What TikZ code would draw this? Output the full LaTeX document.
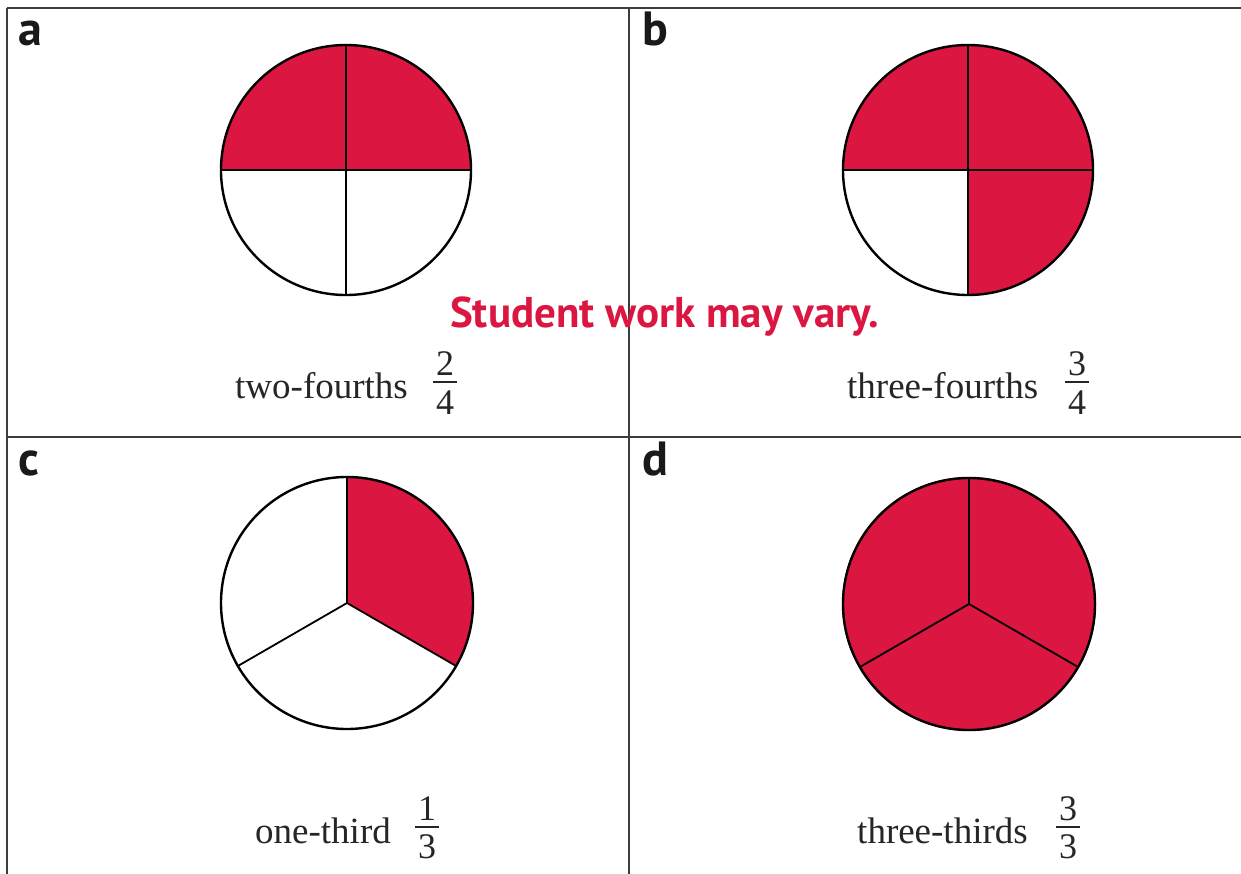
\documentclass[tikz,border=0pt]{standalone}
\usepackage{fontspec}
\newfontfamily\panelfont{PT Sans}
\newfontfamily\capfont{Liberation Serif}
\definecolor{ansred}{RGB}{218,22,65}
\definecolor{rulegray}{RGB}{60,60,60}
\tikzset{
  gridline/.style={line width=1.7pt, draw=rulegray},
  pierim/.style={line width=2.4pt, draw=black},
  piediv/.style={line width=1.8pt, draw=black},
  piefill/.style={fill=ansred},
  panellabel/.style={font=\panelfont\bfseries\fontsize{48}{48}\selectfont, text=black!90, anchor=base west, inner sep=0pt},
  caption/.style={font=\capfont\fontsize{37}{37}\selectfont, text=black!85, anchor=base west, inner sep=0pt},
  digit/.style={font=\capfont\fontsize{36}{36}\selectfont, text=black!85, anchor=base, inner sep=0pt},
  fracbar/.style={line width=1.4pt, draw=black!85},
  answer/.style={font=\panelfont\bfseries\fontsize{43}{43}\selectfont, text=ansred, anchor=base west, inner sep=0pt},
}
\begin{document}
\begin{tikzpicture}[x=1pt,y=-1pt]
\useasboundingbox (0,0) rectangle (1241,874);
\fill[white] (0,0) rectangle (1241,874);

% grid
\draw[gridline] (7,8) -- (1241,8);
\draw[gridline] (7,8) -- (7,874);
\draw[gridline] (629,8) -- (629,874);
\draw[gridline] (7,437) -- (1241,437);

% panel labels
\node[panellabel] (la) at (18,46) {a};
\node[panellabel] (lb) at (642,46) {b};
\node[panellabel] (lc) at (18,475) {c};
\node[panellabel] (ld) at (642,475) {d};

% pie a : two-fourths
\begin{scope}[shift={(346,170)}, y=1pt]
  \fill[piefill] (0,0) -- (0:125) arc[start angle=0, end angle=180, radius=125] -- cycle;
  \draw[pierim] (0,0) circle[radius=125];
  \draw[piediv] (90:125) -- (270:125);
  \draw[piediv] (0:125) -- (180:125);
\end{scope}

% pie b : three-fourths
\begin{scope}[shift={(968,170)}, y=1pt]
  \fill[piefill] (0,0) -- (270:125) arc[start angle=-90, end angle=180, radius=125] -- cycle;
  \draw[pierim] (0,0) circle[radius=125];
  \draw[piediv] (90:125) -- (270:125);
  \draw[piediv] (0:125) -- (180:125);
\end{scope}

% pie c : one-third
\begin{scope}[shift={(347,603)}, y=1pt]
  \fill[piefill] (0,0) -- (90:126) arc[start angle=90, end angle=-30, radius=126] -- cycle;
  \draw[pierim] (0,0) circle[radius=126];
  \draw[piediv] (0,0) -- (90:126);
  \draw[piediv] (0,0) -- (-30:126);
  \draw[piediv] (0,0) -- (210:126);
\end{scope}

% pie d : three-thirds
\begin{scope}[shift={(969,604)}, y=1pt]
  \fill[piefill] (0,0) circle[radius=127];
  \draw[pierim] (0,0) circle[radius=126];
  \draw[piediv] (0,0) -- (90:126);
  \draw[piediv] (0,0) -- (-30:126);
  \draw[piediv] (0,0) -- (210:126);
\end{scope}

% answer note
\node[answer] (note) at (450,327) {Student work may vary.};

% captions
\node[caption] (ca) at (235,398) {two-fourths};
\node[digit] (na) at (445,375) {2};
\node[digit] (da) at (445,414) {4};
\coordinate (bal) at (433,382); \coordinate (bar) at (457,382);
\draw[fracbar] (bal) -- (bar);

\node[caption] (cb) at (847,398) {three-fourths};
\node[digit] (nb) at (1077,375) {3};
\node[digit] (db) at (1077,414) {4};
\coordinate (bbl) at (1065,382); \coordinate (bbr) at (1089,382);
\draw[fracbar] (bbl) -- (bbr);

\node[caption] (cc) at (255,843) {one-third};
\node[digit] (nc) at (427,820) {1};
\node[digit] (dc) at (427,858) {3};
\coordinate (bcl) at (415,827); \coordinate (bcr) at (439,827);
\draw[fracbar] (bcl) -- (bcr);

\node[caption] (cd) at (857,843) {three-thirds};
\node[digit] (nd) at (1068,820) {3};
\node[digit] (dd) at (1068,858) {3};
\coordinate (bdl) at (1056,827); \coordinate (bdr) at (1080,827);
\draw[fracbar] (bdl) -- (bdr);
\end{tikzpicture}
\end{document}
